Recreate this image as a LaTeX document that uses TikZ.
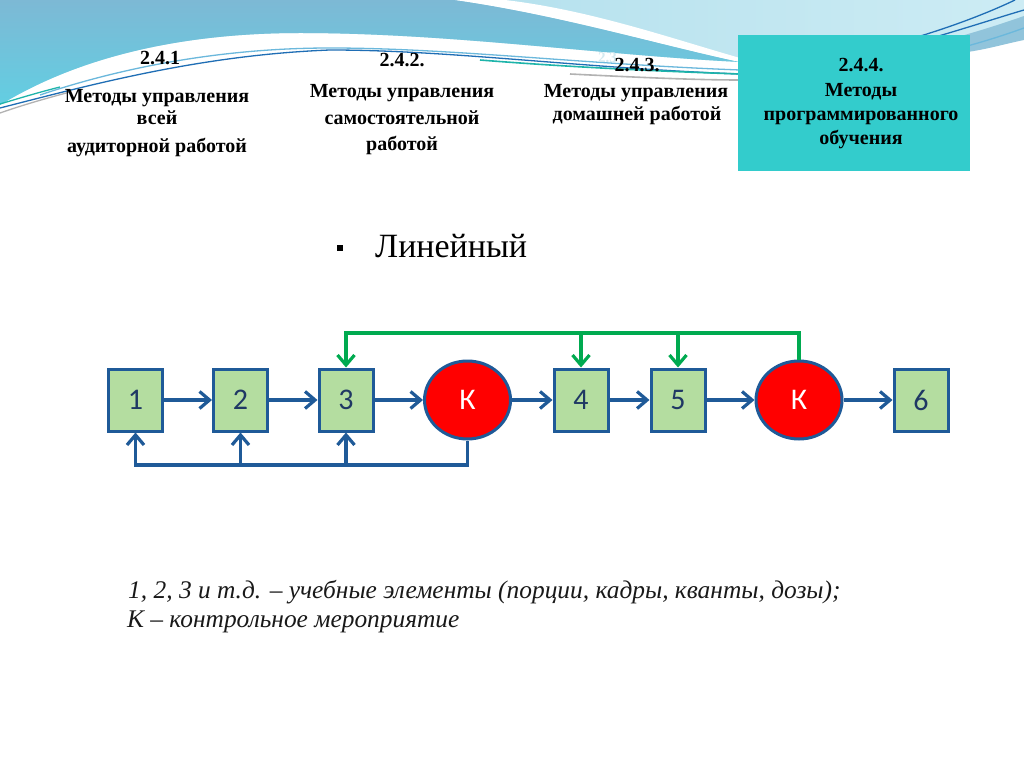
\documentclass[tikz,border=0pt]{standalone}
\usepackage{fontspec}
\setmainfont{Liberation Serif}
\newfontfamily\calib{Carlito}
\usetikzlibrary{arrows.meta,shapes.geometric,calc}
\definecolor{lineblue}{RGB}{31,90,152}
\definecolor{boxgreen}{RGB}{180,221,160}
\definecolor{fbgreen}{RGB}{0,170,80}
\definecolor{cyanbox}{RGB}{51,204,204}
\definecolor{wavedark}{RGB}{125,185,213}
\definecolor{waveteal}{RGB}{98,206,226}
\definecolor{wavelight}{RGB}{160,215,232}
\definecolor{wavepale}{RGB}{205,236,244}
\definecolor{navytext}{RGB}{31,56,100}
\definecolor{swdark}{RGB}{31,110,181}
\definecolor{swlight}{RGB}{107,184,220}
\definecolor{swteal}{RGB}{30,180,170}
\definecolor{ghostc}{RGB}{212,234,240}
\begin{document}
\begin{tikzpicture}[x=1pt,y=-1pt,
  elem/.style={draw=lineblue, line width=3pt, fill=boxgreen, minimum width=54pt,
    minimum height=62pt, inner sep=0pt, font=\calib\fontsize{30}{34}\selectfont, text=navytext},
  ctrl/.style={ellipse, draw=lineblue, line width=3pt, fill=red, minimum width=86pt,
    minimum height=78pt, inner sep=0pt, font=\calib\fontsize{30}{34}\selectfont, text=white},
  flow/.style={draw=lineblue, line width=3.2pt, -{Straight Barb[length=10pt,width=17pt]}},
  gflow/.style={draw=fbgreen, line width=3.2pt, -{Straight Barb[length=10pt,width=17pt]}},
  head/.style={anchor=base, inner sep=0pt, font=\bfseries\fontsize{20}{24}\selectfont},
  note/.style={anchor=base west, inner sep=0pt, text={rgb,255:red,25;green,25;blue,25},
    font=\itshape\fontsize{25.4}{29}\selectfont},
  swoosh/.style={line width=1.3pt}
]
\useasboundingbox (0,0) rectangle (1024,767);
\fill[white] (0,0) rectangle (1024,767);
% background waves
\shade[left color=wavelight, right color=wavepale]
  (0,0) -- (1024,0) -- (1024,38) .. controls (950,55) and (850,62) .. (740,62)
  .. controls (600,55) and (450,33) .. (300,33) .. controls (200,33) and (90,50) .. (0,105) -- cycle;
\fill[wavedark!85] (900,52) .. controls (950,40) and (990,28) .. (1024,16) -- (1024,40)
  .. controls (1000,45) and (985,50) .. (960,53) -- cycle;
\shade[top color=wavedark, bottom color=waveteal]
  (0,0) -- (455,0) .. controls (560,15) and (660,45) .. (740,62)
  .. controls (600,55) and (450,33) .. (300,33) .. controls (200,33) and (90,50) .. (0,105) -- cycle;
\fill[white] (455,0) -- (505,0) .. controls (590,10) and (670,38) .. (740,58) -- (740,62)
  .. controls (660,45) and (560,15) .. (455,0) -- cycle;
\draw[swoosh, swlight] (40,95) .. controls (120,68) and (220,48) .. (330,48)
  .. controls (450,48) and (580,64) .. (740,70);
\draw[swoosh, swdark] (0,108) .. controls (90,85) and (200,55) .. (330,50)
  .. controls (450,50) and (580,68) .. (740,74);
\draw[swoosh, swteal, line width=1.6pt] (480,60) .. controls (580,68) and (680,72) .. (740,74);
\draw[swoosh, gray!60, line width=1.6pt] (570,74) .. controls (650,78) and (700,80) .. (740,80);
\draw[swoosh, gray!60] (0,113) .. controls (20,106) and (40,100) .. (70,92);
\draw[swoosh, swteal] (0,104) .. controls (20,98) and (40,92) .. (60,87);
\draw[swoosh, swdark] (900,42) .. controls (950,28) and (990,12) .. (1015,0);
\draw[swoosh, swdark] (925,40) .. controls (970,27) and (1000,17) .. (1024,10);
\draw[swoosh, swlight] (960,48) .. controls (990,40) and (1010,33) .. (1024,28);
% header box
\node[fill=cyanbox, minimum width=232pt, minimum height=136pt, inner sep=0pt] (box4) at (854,103) {};
% header texts
\node[head] (h1a) at (160,65) {2.4.1};
\node[head] (h1b) at (157,103) {Методы управления};
\node[head] (h1c) at (157,125) {всей};
\node[head] (h1d) at (157,153) {аудиторной работой};
\node[head] (h2a) at (402,67) {2.4.2.};
\node[head] (h2b) at (402,98) {Методы управления};
\node[head] (h2c) at (402,125) {самостоятельной};
\node[head] (h2d) at (402,151) {работой};
\node[anchor=base west, inner sep=0pt, text=ghostc, font=\bfseries\fontsize{15}{18}\selectfont] (ghost) at (598,63) {2.3};
\node[head] (h3a) at (637,72) {2.4.3.};
\node[head] (h3b) at (636,98) {Методы управления};
\node[head] (h3c) at (637,121) {домашней работой};
\node[head] (h4a) at (861,72) {2.4.4.};
\node[head] (h4b) at (861,97) {Методы};
\node[head] (h4c) at (861,121) {программированного};
\node[head] (h4d) at (861,145) {обучения};
% title
\node[fill=black, minimum size=6pt, inner sep=0pt] (bul) at (340,248) {};
\node[anchor=base west, inner sep=0pt, font=\fontsize{34}{40}\selectfont] (title) at (375,257) {Линейный};
% diagram
\node[elem] (b1) at (135.5,400) {1};
\node[elem] (b2) at (240.5,400) {2};
\node[elem] (b3) at (346,400) {3};
\node[ctrl] (k1) at (467.5,400) {К};
\node[elem] (b4) at (581,400) {4};
\node[elem] (b5) at (678,400) {5};
\node[ctrl] (k2) at (799,400) {К};
\node[elem] (b6) at (921,400) {6};
\draw[flow] (b1) -- (b2);
\draw[flow] (b2) -- (b3);
\draw[flow] (b3) -- (k1);
\draw[flow] (k1) -- (b4);
\draw[flow] (b4) -- (b5);
\draw[flow] (b5) -- (k2);
\draw[flow] (k2) -- (b6);
\coordinate (bot) at (0,465);
\coordinate (top) at (0,333);
\draw[flow] (k1.south) |- (b1.south |- bot) -- (b1.south);
\draw[flow] (b2.south |- bot) -- (b2.south);
\draw[flow] (b3.south |- bot) -- (b3.south);
\draw[gflow] (k2.north) |- (b3.north |- top) -- (b3.north);
\draw[gflow] (b4.north |- top) -- (b4.north);
\draw[gflow] (b5.north |- top) -- (b5.north);
% notes
\node[note] (n1) at (128,598) {1, 2, 3 и т.д. – учебные элементы (порции, кадры, кванты, дозы);};
\node[note] (n2) at (127,627) {К – контрольное мероприятие};
\end{tikzpicture}
\end{document}
